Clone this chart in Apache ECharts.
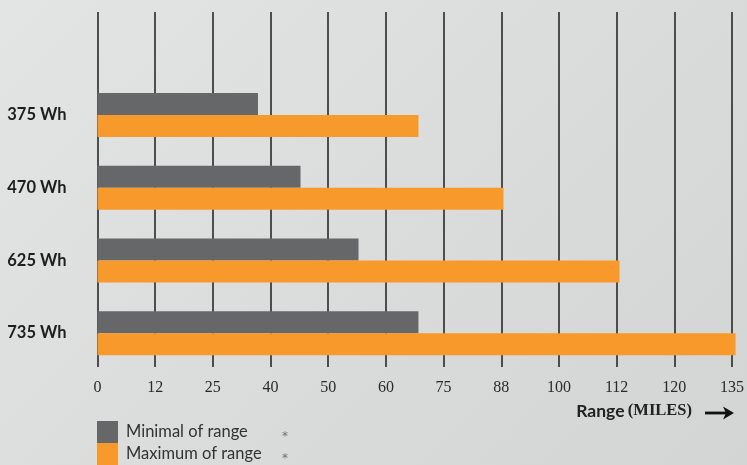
<!DOCTYPE html>
<html>
<head>
<meta charset="utf-8">
<script src="https://cdn.jsdelivr.net/npm/echarts@6/dist/echarts.min.js"></script>
<style>
html,body{margin:0;padding:0;}
#c{width:747px;height:465px;background:linear-gradient(135deg,#e3e4e4 0%,#d9dada 60%,#d3d4d4 100%);}
</style>
</head>
<body>
<div id="c"></div>
<script>
const categories = ['375 Wh', '470 Wh', '625 Wh', '735 Wh'];
const minimalRange = [36.5, 45, 55, 68];
const maximumRange = [68, 88, 112, 135];
const tickLabels = [0, 12, 25, 40, 50, 60, 75, 88, 100, 112, 120, 135];

// map a value in miles onto the evenly spaced tick scale
function toTickScale(m) {
  for (let i = 0; i < tickLabels.length - 1; i++) {
    const a = tickLabels[i], b = tickLabels[i + 1];
    if (m <= b) return i + (m - a) / (b - a);
  }
  return tickLabels.length - 1;
}

const chart = echarts.init(document.getElementById('c'));
const serif = '"Liberation Serif", "DejaVu Serif", serif';
const sans = 'Lato, "Open Sans", sans-serif';

chart.setOption({
  backgroundColor: 'transparent',
  animation: false,
  grid: [
    { left: 97.5, right: 11.5, top: 12, bottom: 98, containLabel: false },
    { left: 97.5, right: 11.5, top: 78.5, bottom: 95.5, containLabel: false }
  ],
  xAxis: [
    {
      gridIndex: 0, type: 'value', min: 0, max: tickLabels.length - 1, interval: 1,
      axisLine: { show: false }, axisTick: { show: false },
      splitLine: { show: true, lineStyle: { color: '#1e1e1e', width: 1.5 } },
      axisLabel: {
        formatter: v => String(tickLabels[v]),
        fontFamily: serif, fontSize: 16, color: '#2a2a2a', margin: 13
      }
    },
    {
      gridIndex: 1, type: 'value', min: 0, max: tickLabels.length - 1, interval: 1,
      show: false
    }
  ],
  yAxis: [
    {
      gridIndex: 0, type: 'category', data: categories, inverse: true, show: false
    },
    {
      gridIndex: 1, type: 'category', data: categories, inverse: true,
      axisLine: { show: false }, axisTick: { show: false }, splitLine: { show: false },
      axisLabel: { fontFamily: sans, fontWeight: 'bold', fontSize: 16.5, color: '#1e1e1e', margin: 31 }
    }
  ],
  legend: {
    orient: 'vertical', left: 97, top: 421, itemGap: 0, padding: 0,
    itemWidth: 21, itemHeight: 22, icon: 'rect',
    data: ['Minimal of range', 'Maximum of range'],
    formatter: name => '{n|' + name + '}{a|*}',
    textStyle: {
      padding: [0, 0, 0, 3],
      rich: {
        n: { fontFamily: sans, fontSize: 16.5, color: '#333', width: 156 },
        a: { fontFamily: '"DejaVu Sans", sans-serif', fontSize: 12, color: '#6f7278', padding: [10, 0, 0, 0] }
      }
    }
  },
  series: [
    {
      name: 'Minimal of range', type: 'bar', xAxisIndex: 1, yAxisIndex: 1,
      data: minimalRange.map(toTickScale),
      barWidth: 22, barGap: '0%',
      itemStyle: { color: '#666768' }
    },
    {
      name: 'Maximum of range', type: 'bar', xAxisIndex: 1, yAxisIndex: 1,
      data: maximumRange.map(toTickScale),
      barWidth: 22, barGap: '0%',
      itemStyle: { color: '#f7992b' }
    }
  ],
  graphic: [
    {
      type: 'text', right: 55, top: 402,
      style: {
        text: '{b|Range} {s|(MILES)}',
        rich: {
          b: { fontFamily: sans, fontWeight: 'bold', fontSize: 17.5, fill: '#222' },
          s: { fontFamily: serif, fontWeight: 'bold', fontSize: 16.5, fill: '#222' }
        }
      }
    },
    {
      type: 'line', shape: { x1: 705, y1: 413, x2: 728, y2: 413 },
      style: { stroke: '#111', lineWidth: 2.8 }
    },
    {
      type: 'polygon', shape: { points: [[734, 413], [723, 406.5], [726, 413], [723, 419.5]] },
      style: { fill: '#111' }
    }
  ]
});
</script>
</body>
</html>
